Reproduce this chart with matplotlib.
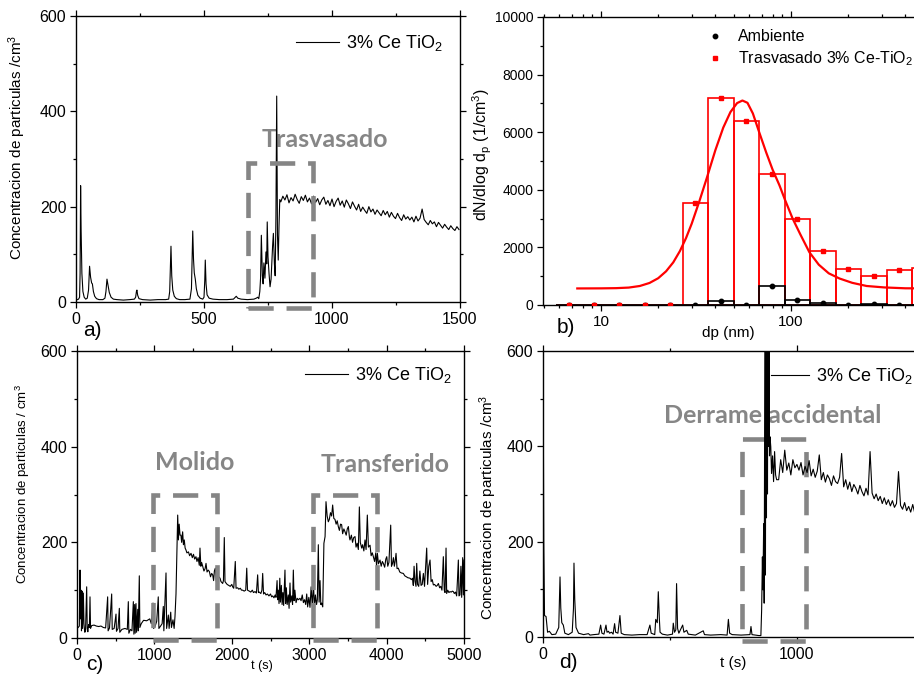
import numpy as np
import matplotlib.pyplot as plt
import matplotlib.ticker as mtick
from matplotlib.patches import Rectangle

plt.rcParams['font.family'] = ['Liberation Sans', 'DejaVu Sans']
plt.rcParams['mathtext.fontset'] = 'custom'
plt.rcParams['mathtext.rm'] = 'Liberation Sans'
plt.rcParams['mathtext.it'] = 'Liberation Sans:italic'

# ---------------- panel a: trasvasado ----------------
t_a = [0, 5, 10, 14, 16, 18, 20, 23, 27, 32, 38, 44, 49, 53, 57, 61, 64, 68, 73, 80,
       90, 105, 113, 117, 121, 125, 130, 137, 146, 160, 185, 210, 228, 233, 236, 238, 241, 246, 260, 290,
       320, 350, 362, 366, 369, 371, 374, 378, 384, 392, 405, 425, 445, 451, 454, 456, 459, 462, 466, 470,
       476, 485, 495, 500, 503, 505, 508, 512, 520, 535, 560, 590, 615, 622, 626, 632, 645, 670, 695, 704,
       710, 714, 718, 721, 724, 728, 731, 734, 738, 742, 745, 747, 750, 754, 758, 762, 765, 768, 771, 775,
       778, 781, 784, 787, 790, 793, 796]
y_a = [4, 5, 6, 10, 60, 244, 150, 60, 22, 10, 6, 8, 25, 75, 52, 40, 38, 22, 12, 7,
       5, 5, 8, 22, 48, 35, 20, 10, 6, 5, 4, 5, 6, 10, 22, 25, 14, 7, 5, 4,
       5, 5, 6, 22, 80, 117, 55, 25, 12, 7, 5, 5, 6, 28, 100, 149, 90, 61, 48, 28,
       14, 8, 6, 10, 45, 88, 38, 15, 8, 6, 5, 5, 6, 10, 12, 8, 6, 5, 6, 8,
       10, 7, 22, 50, 140, 55, 38, 82, 50, 105, 80, 168, 95, 60, 32, 48, 82, 118, 144, 80,
       55, 180, 432, 140, 88, 160, 215]
t_a_plateau = np.arange(800, 1500, 8)
y_a_plateau = [210, 222, 214, 225, 208, 219, 212, 226, 215, 207, 221, 213, 224, 210, 218, 206, 222,
               209, 217, 204, 214, 220, 205, 213, 202, 216,
               200, 211, 218, 203, 212, 199, 214, 206, 196, 210, 201, 193,
               205, 190, 199, 192, 186, 200, 189, 195, 184, 193, 187, 181, 192,
               183, 190, 178, 188, 180, 175, 186, 177, 171, 183, 174, 179,
               172, 178, 168, 180, 170, 176, 195, 173, 167, 162, 171, 164, 168,
               158, 167, 161, 155, 163, 157, 152, 160, 154, 150, 158, 152]

# ---------------- panel b: size distribution ----------------
dp_edges = [5.8, 7.9, 10.7, 14.6, 19.8, 27.0, 36.5, 50.1, 67.9, 92.9, 126, 172, 233, 320, 433, 589]
dp_centers = [6.8, 9.2, 12.5, 17.0, 23.1, 31.4, 42.8, 58.3, 79.4, 108, 147, 200, 273, 372, 505]
dn_trasvasado = [0, 0, 0, 0, 0, 3550, 7180, 6380, 4560, 2990, 1860, 1240, 1000, 1200, 1270]
dn_ambiente = [0, 0, 0, 0, 0, 10, 140, 10, 660, 190, 70, 10, 20, 10, 10]
fit_dp = [7.5, 10, 12, 14, 16, 18, 20, 22, 24, 26, 28, 30, 33, 36, 40, 44, 48, 52, 55.5,
          59, 63, 68, 74, 80, 87, 93, 102, 112, 125, 140, 158, 180, 210, 250, 310, 400, 600]
fit_dn = [575, 578, 585, 605, 660, 765, 930, 1170, 1480, 1870, 2320, 2820, 3620, 4400, 5380, 6160, 6700, 7010, 7100,
          7020, 6650, 6000, 5300, 4700, 4150, 3650, 3000, 2450, 1830, 1400, 1100, 920, 770, 660, 610, 580, 575]

# ---------------- panel c: molido / transferido ----------------
t_c = [0, 15, 30, 39, 45, 52, 58, 65, 72, 82, 90, 100, 110, 118, 125, 132, 140, 150, 160, 168,
       175, 190, 220, 250, 280, 310, 340, 370, 396, 402, 420, 448, 455, 480, 504, 510, 530, 547, 553, 580,
       620, 650, 663, 670, 690, 710, 728, 735, 745, 752, 762, 770, 785, 792, 805, 812, 830, 860, 900, 940,
       960, 982, 990, 1010, 1030, 1050, 1058, 1080, 1100, 1115, 1122, 1150, 1158, 1180, 1190, 1211, 1220, 1240, 1255, 1266,
       1279,
       1301, 1310, 1320, 1331, 1343, 1352, 1365, 1375, 1386, 1397, 1408, 1420, 1440, 1455, 1473, 1490, 1505, 1520, 1537, 1550,
       1565, 1580, 1589, 1600, 1610, 1624, 1640, 1655, 1667, 1680, 1695, 1710, 1725, 1740, 1753, 1765, 1775, 1787, 1800, 1817,
       1830, 1848, 1860, 1882, 1892, 1903, 1912, 1925, 1940, 1960, 1980, 2000, 2011, 2025, 2045, 2055, 2076, 2090, 2110, 2125,
       2141, 2160, 2180, 2193, 2203, 2226, 2245, 2265, 2280, 2300, 2318, 2334, 2344, 2355, 2375, 2389, 2399, 2410, 2425, 2442,
       2460, 2480, 2500, 2515, 2528, 2545, 2560, 2571,
       2585, 2592, 2600, 2610, 2620, 2628, 2640, 2650, 2660, 2670, 2687, 2695, 2705, 2715, 2730, 2740, 2752, 2760, 2775, 2785,
       2795, 2805, 2815, 2830, 2845, 2860, 2881, 2895, 2910, 2925, 2940, 2955, 2968, 2980, 2995, 3010, 3025, 3040, 3055, 3068,
       3080, 3095, 3105, 3118, 3128, 3140, 3150, 3161, 3175,
       3190, 3205, 3217, 3232, 3247, 3260, 3275, 3290, 3303, 3318, 3333, 3348, 3362, 3376, 3390, 3405, 3419, 3432, 3448, 3463,
       3478, 3492, 3506, 3520, 3527, 3545, 3560, 3575, 3592, 3605, 3620, 3635, 3648, 3660, 3678, 3690, 3706, 3721, 3735, 3751,
       3765, 3786, 3800, 3815, 3829, 3845, 3860, 3870, 3881, 3895, 3915, 3930, 3945, 3958, 3975, 3990, 4002, 4015, 4030, 4053,
       4063, 4075, 4088, 4100, 4110, 4122, 4135, 4151, 4170, 4190, 4216, 4235, 4255, 4275, 4302, 4320, 4335, 4345, 4355, 4367,
       4380, 4389, 4400, 4415, 4430, 4445, 4460, 4475, 4490, 4505, 4518, 4530, 4545, 4561, 4575, 4590, 4604, 4620, 4640, 4655,
       4669, 4685, 4700, 4715, 4733, 4745, 4755, 4768, 4776, 4790, 4805, 4819, 4835, 4850, 4862, 4875, 4890, 4905, 4915, 4927,
       4935, 4948, 4960, 4970, 4983, 4992, 5000]
y_c = [20, 22, 25, 142, 40, 100, 15, 98, 20, 94, 30, 12, 14, 60, 107, 20, 13, 28, 22, 86,
       20, 26, 27, 25, 24, 25, 22, 21, 86, 15, 21, 92, 18, 20, 50, 14, 20, 62, 12, 18,
       20, 18, 76, 10, 18, 15, 76, 8, 70, 10, 72, 12, 60, 15, 130, 22, 30, 37, 36, 40,
       30, 73, 20, 25, 35, 86, 20, 25, 30, 66, 15, 136, 20, 48, 20, 54, 22, 38, 20, 45,
       92,
       257, 205, 238, 215, 215, 200, 222, 195, 205, 188, 184, 178, 180, 172, 177, 168, 175, 165, 170, 160,
       168, 152, 188, 150, 158, 150, 140, 145, 156, 138, 142, 139, 128, 135, 132, 120, 140, 146, 118, 121,
       128, 125, 118, 114, 120, 210, 118, 115, 112, 110, 108, 112, 107, 104, 160, 104, 105, 102, 104, 100,
       100, 98, 100, 146, 100, 98, 96, 100, 95, 97, 94, 132, 95, 96, 93, 100, 135, 92, 95, 90,
       92, 88, 92, 86, 88, 84, 90, 85,
       120, 80, 100, 72, 125, 75, 110, 70, 95, 68, 142, 72, 105, 70, 90, 62, 115, 75, 88, 70,
       142, 78, 100, 74, 83, 80, 83, 78, 90, 74, 80, 70, 92, 65, 85, 64, 107, 66, 115, 62,
       90, 70, 80, 195, 75, 120, 70, 73, 65,
       198, 212, 285, 255, 243, 248, 262, 255, 278, 250, 248, 238, 245, 233, 225, 238, 237, 218, 228, 222,
       215, 228, 233, 210, 205, 215, 200, 210, 212, 190, 198, 185, 274, 200, 188, 195, 182, 205, 185, 257,
       190, 194, 172, 178, 170, 160, 178, 150, 177, 155, 163, 150, 160, 156, 148, 165, 170, 150, 158, 236,
       150, 155, 168, 150, 160, 177, 145, 146, 138, 136, 135, 130, 128, 126, 125, 122, 125, 110, 150, 118,
       108, 156, 112, 108, 140, 110, 112, 135, 108, 150, 188, 112, 150, 163, 118, 122, 111, 112, 108, 110,
       114, 105, 108, 100, 170, 100, 95, 188, 93, 100, 95, 97, 96, 98, 97, 93, 96, 88, 120, 163,
       88, 90, 150, 85, 168, 90, 163]

# ---------------- panel d: derrame accidental ----------------
t_d = [0, 3, 6, 12, 18, 25, 35, 50, 62, 67, 70, 74, 80, 86, 100, 115, 120, 122, 125, 130,
       140, 160, 179, 185, 200, 220, 227, 232, 240, 248, 252, 258, 262, 270, 276, 282, 286, 295, 303, 308,
       320, 350, 380, 410, 421, 426, 440, 444, 450, 454, 458, 461, 470, 490, 510, 513, 518, 523, 526, 530,
       535, 550, 555, 566, 572, 600, 631, 636, 660, 700, 725, 730, 735, 745, 780, 815, 819, 823, 850, 858,
       861, 864, 866, 869, 871, 874, 876, 878, 880, 882, 884, 886, 888, 890, 892, 894, 897, 900, 904, 908,
       912, 916, 920]
y_d = [640, 200, 45, 43, 10, 12, 5, 6, 20, 126, 61, 30, 25, 8, 5, 10, 60, 155, 80, 20,
       8, 5, 7, 4, 5, 6, 25, 8, 6, 25, 10, 12, 8, 10, 6, 28, 10, 8, 45, 8,
       5, 4, 5, 5, 25, 8, 5, 37, 30, 95, 40, 10, 6, 4, 6, 29, 10, 15, 112, 18,
       8, 25, 10, 14, 6, 4, 13, 5, 4, 5, 4, 37, 8, 5, 4, 5, 22, 5, 3, 3,
       57, 168, 99, 238, 71, 700, 130, 900, 250, 1000, 300, 800, 400, 650, 380, 420, 399, 343, 380, 326,
       389, 340, 330]
t_d_plateau = np.arange(928, 1521, 8)
y_d_plateau = [330, 372, 345, 392, 350, 365, 340, 372, 355, 362,
               350, 366, 340, 358, 345, 370, 338, 352, 335, 348,
               382, 330, 345, 325, 340, 332, 318, 338, 326, 322,
               335, 385, 315, 330, 310, 325, 305, 320, 312, 300,
               318, 305, 296, 312, 298, 389, 302, 290, 300, 286,
               295, 280, 292, 278, 288, 275, 286, 272, 280, 347,
               276, 268, 282, 265, 274, 262, 278, 260, 272, 258,
               270, 262, 275, 258, 266]

legend_label = '3% Ce TiO$_2$'
ylabel_conc = 'Concentracion de particulas /cm$^3$'
box_gray = '#858585'
text_gray = '#868686'

W, H = 914, 675
fig = plt.figure(figsize=(W / 100, H / 100), dpi=100)


def px_axes(left, top, right, bottom):
    return fig.add_axes([left / W, 1 - bottom / H, (right - left) / W, (bottom - top) / H])


def style(ax, size=11.5):
    for s in ax.spines.values():
        s.set_linewidth(1.0)
    ax.tick_params(which='both', direction='out', top=True, right=True, labelsize=size, pad=3, width=0.9)
    ax.tick_params(which='major', length=4)
    ax.tick_params(which='minor', length=2.5)


def dashed_box(ax, x0, y0, x1, y1, z=3):
    r = Rectangle((x0, y0), x1 - x0, y1 - y0, fill=False, edgecolor=box_gray,
                  linewidth=3.3, linestyle=(0, (5.5, 2.8)), clip_on=False, zorder=z)
    ax.add_patch(r)


def gray_label(ax, x, y, s):
    ax.text(x, y, s, color=text_gray, fontsize=18, fontfamily='Lato', fontweight='bold',
            ha='center', va='center', zorder=1)


# panel a
ax_a = px_axes(76, 16, 460, 302)
ax_a.plot(list(t_a) + list(t_a_plateau), y_a + y_a_plateau, color='k', lw=0.8, label=legend_label, zorder=2)
ax_a.set_xlim(0, 1500)
ax_a.set_ylim(0, 600)
ax_a.set_xticks([0, 500, 1000, 1500])
ax_a.xaxis.set_minor_locator(mtick.MultipleLocator(250))
ax_a.set_yticks([0, 200, 400, 600])
ax_a.yaxis.set_minor_locator(mtick.MultipleLocator(100))
style(ax_a)
ax_a.set_ylabel(ylabel_conc, fontsize=11)
ax_a.yaxis.set_label_coords(-0.125, 0.54)
dashed_box(ax_a, 672, -13, 926, 291)
gray_label(ax_a, 973, 340, 'Trasvasado')
ax_a.legend(loc='center left', bbox_to_anchor=(0.573, 0.906), frameon=False, fontsize=13,
            handlelength=2.4, handletextpad=0.35, borderpad=0, borderaxespad=0)

# panel b
ax_b = px_axes(543, 17, 930, 305)
widths = [dp_edges[i + 1] - dp_edges[i] for i in range(len(dp_centers))]
ax_b.bar(dp_edges[:-1], dn_trasvasado, width=widths, align='edge', fill=False,
         edgecolor='#ff0000', linewidth=1.2, zorder=2)
ax_b.bar(dp_edges[:-1], dn_ambiente, width=widths, align='edge', fill=False,
         edgecolor='k', linewidth=1.2, zorder=3)
ax_b.plot(fit_dp, fit_dn, color='#ff0000', lw=1.6, zorder=4)
ax_b.plot(dp_centers, dn_ambiente, 'o', color='k', ms=3.2, zorder=5, label='Ambiente')
ax_b.plot(dp_centers, dn_trasvasado, 's', color='#ff0000', ms=3.2, zorder=5,
          label='Trasvasado 3% Ce-TiO$_2$')
ax_b.set_xscale('log')
ax_b.set_xlim(4.95, 539)
ax_b.set_ylim(0, 10000)
ax_b.set_yticks(range(0, 10001, 2000))
ax_b.yaxis.set_minor_locator(mtick.MultipleLocator(1000))
ax_b.xaxis.set_major_formatter(mtick.FuncFormatter(lambda v, p: f'{v:g}'))
style(ax_b, 10)
ax_b.tick_params(axis='x', labelsize=11)
ax_b.set_ylabel('dN/dlog d$_\\mathrm{p}$ (1/cm$^3$)', fontsize=11.5)
ax_b.yaxis.set_label_coords(-0.127, 0.524)
ax_b.set_xlabel('dp (nm)', fontsize=11)
ax_b.xaxis.set_label_coords(0.478, -0.072)
ax_b.legend(loc='upper left', bbox_to_anchor=(0.424, 0.958), frameon=False, fontsize=11.5,
            handlelength=1.0, handletextpad=0.95, labelspacing=0.35, borderpad=0, borderaxespad=0,
            markerscale=1.0)

# panel c
ax_c = px_axes(77, 351, 464, 638)
ax_c.plot(t_c, y_c, color='k', lw=0.8, label=legend_label, zorder=2)
ax_c.set_xlim(0, 5000)
ax_c.set_ylim(0, 600)
ax_c.set_xticks(range(0, 5001, 1000))
ax_c.xaxis.set_minor_locator(mtick.MultipleLocator(500))
ax_c.set_yticks([0, 200, 400, 600])
ax_c.yaxis.set_minor_locator(mtick.MultipleLocator(100))
style(ax_c)
ax_c.set_ylabel('Concentracion de particulas / cm$^3$', fontsize=9.5)
ax_c.yaxis.set_label_coords(-0.116, 0.537)
ax_c.set_xlabel('t (s)', fontsize=9)
ax_c.xaxis.set_label_coords(0.478, -0.077)
dashed_box(ax_c, 985, -5, 1810, 300)
dashed_box(ax_c, 3050, -5, 3875, 300)
gray_label(ax_c, 1525, 366, 'Molido')
gray_label(ax_c, 3980, 362, 'Transferido')
ax_c.legend(loc='center left', bbox_to_anchor=(0.589, 0.916), frameon=False, fontsize=13,
            handlelength=2.4, handletextpad=0.35, borderpad=0, borderaxespad=0)

# panel d
ax_d = px_axes(543, 351, 930, 637)
ax_d.plot(list(t_d) + list(t_d_plateau), y_d + y_d_plateau, color='k', lw=0.8, label=legend_label, zorder=4)
ax_d.set_xlim(0, 1524)
ax_d.set_ylim(0, 600)
ax_d.set_xticks([0, 1000])
ax_d.xaxis.set_minor_locator(mtick.MultipleLocator(500))
ax_d.set_yticks([0, 200, 400, 600])
ax_d.yaxis.set_minor_locator(mtick.MultipleLocator(100))
style(ax_d)
ax_d.set_ylabel(ylabel_conc, fontsize=11)
ax_d.yaxis.set_label_coords(-0.114, 0.455)
ax_d.set_xlabel('t (s)', fontsize=11)
ax_d.xaxis.set_label_coords(0.491, -0.066)
dashed_box(ax_d, 783, -8, 1035, 415, z=3)
gray_label(ax_d, 905, 464, 'Derrame accidental')
ax_d.legend(loc='center left', bbox_to_anchor=(0.59, 0.913), frameon=False, fontsize=13,
            handlelength=2.1, handletextpad=0.35, borderpad=0, borderaxespad=0)

for s, x, y in [('a)', 92, 330), ('b)', 566, 328), ('c)', 95, 664), ('d)', 568, 662)]:
    fig.text(x / W, 1 - y / H, s, fontsize=15, ha='center', va='center')

fig.savefig('out.png', dpi=100)
